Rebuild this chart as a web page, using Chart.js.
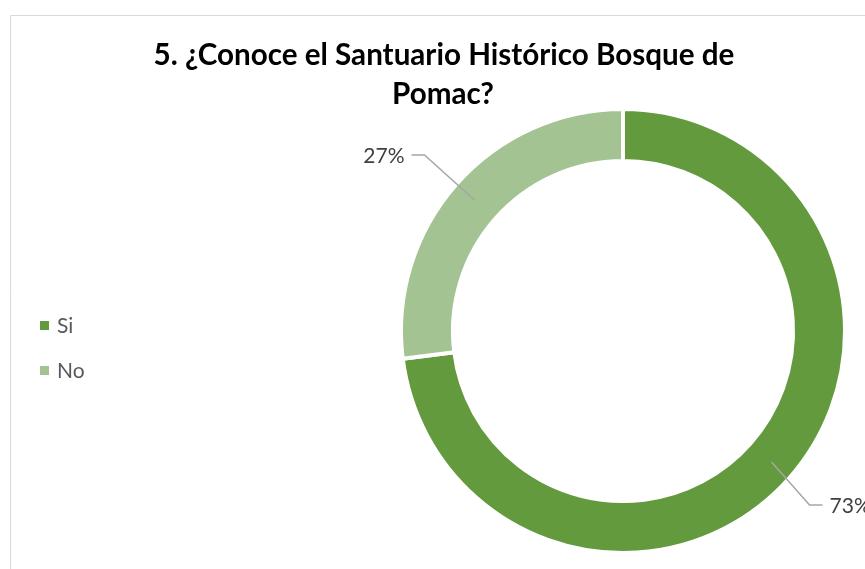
<!DOCTYPE html>
<html>
<head>
<meta charset="utf-8">
<script src="https://cdn.jsdelivr.net/npm/chart.js@4"></script>
<style>
  html, body { margin: 0; padding: 0; background: #ffffff; }
  #wrap { width: 865px; height: 569px; position: relative; }
</style>
</head>
<body>
<div id="wrap"><canvas id="chart" width="865" height="569"></canvas></div>
<script>
  // datos
  const titleLines = ["5. ¿Conoce el Santuario Histórico Bosque de", "Pomac?"];
  const categories = ["Si", "No"];
  const values = [73, 27];
  const colors = ["#629a3d", "#a3c492"];

  const FONT = "Lato, 'Open Sans', sans-serif";

  // titulo, leyenda, etiquetas y borde
  const extras = {
    id: "extras",
    afterDraw(chart) {
      const ctx = chart.ctx;
      ctx.save();

      // borde del area
      ctx.strokeStyle = "#d9d9d9";
      ctx.lineWidth = 1;
      ctx.beginPath();
      ctx.moveTo(10.5, 569);
      ctx.lineTo(10.5, 15.5);
      ctx.lineTo(865, 15.5);
      ctx.stroke();

      // titulo (ajustado al ancho)
      let size = 26;
      ctx.font = "bold " + size + "px " + FONT;
      size = size * 581 / ctx.measureText(titleLines[0]).width;
      ctx.font = "bold " + size.toFixed(2) + "px " + FONT;
      ctx.fillStyle = "#000000";
      ctx.textAlign = "center";
      ctx.textBaseline = "alphabetic";
      ctx.fillText(titleLines[0], 444, 65);
      ctx.fillText(titleLines[1], 443, 104);

      // leyenda
      ctx.font = "21px " + FONT;
      ctx.textAlign = "left";
      ctx.textBaseline = "middle";
      categories.forEach((c, i) => {
        const y = 326 + i * 45;
        ctx.fillStyle = colors[i];
        ctx.fillRect(40, y - 5, 9, 9);
        ctx.fillStyle = "#595959";
        ctx.fillText(c, 57, y);
      });

      // etiquetas con lineas guia
      const meta = chart.getDatasetMeta(0);
      const total = values.reduce((a, b) => a + b, 0);
      const guides = [
        { dx: 38, dy: 43, run: 13 },
        { dx: -50, dy: -45, run: -13 }
      ];
      meta.data.forEach((arc, i) => {
        const p = arc.getProps(["x", "y", "startAngle", "endAngle", "innerRadius", "outerRadius"], true);
        const a = (p.startAngle + p.endAngle) / 2;
        const r = (p.innerRadius + p.outerRadius) / 2 + 2;
        const x0 = p.x + Math.cos(a) * r;
        const y0 = p.y + Math.sin(a) * r;
        const g = guides[i];
        const x1 = x0 + g.dx, y1 = y0 + g.dy;
        const x2 = x1 + g.run;
        ctx.strokeStyle = "#a6a6a6";
        ctx.lineWidth = 1.5;
        ctx.beginPath();
        ctx.moveTo(x0, y0);
        ctx.lineTo(x1, y1);
        ctx.lineTo(x2, y1);
        ctx.stroke();
        ctx.fillStyle = "#404040";
        ctx.font = "21px " + FONT;
        ctx.textBaseline = "middle";
        ctx.textAlign = g.run > 0 ? "left" : "right";
        const txt = Math.round(values[i] / total * 100) + "%";
        ctx.fillText(txt, x2 + (g.run > 0 ? 7 : -7), y1 + 1);
      });

      ctx.restore();
    }
  };

  const chart = new Chart(document.getElementById("chart").getContext("2d"), {
    type: "doughnut",
    data: {
      labels: categories,
      datasets: [{
        data: values,
        backgroundColor: colors,
        borderColor: "#ffffff",
        borderWidth: 4,
        hoverOffset: 0
      }]
    },
    options: {
      responsive: false,
      animation: false,
      cutout: "76.6%",
      layout: { padding: { left: 399, right: 18, top: 107, bottom: 14 } },
      plugins: {
        legend: { display: false },
        title: { display: false },
        tooltip: { enabled: false }
      }
    },
    plugins: [extras]
  });
</script>
</body>
</html>
